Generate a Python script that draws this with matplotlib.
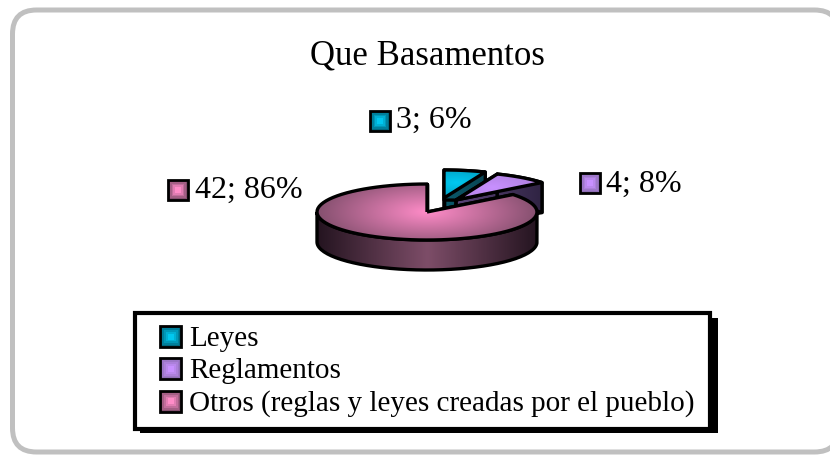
import numpy as np
import matplotlib
matplotlib.use('Agg')
import matplotlib.pyplot as plt
from matplotlib.colors import LinearSegmentedColormap, to_rgb
from matplotlib.patches import FancyBboxPatch, Patch, PathPatch, Rectangle
from matplotlib.path import Path
from matplotlib.legend_handler import HandlerBase

plt.rcParams['font.family'] = ['Liberation Serif', 'DejaVu Serif']

title = 'Que Basamentos'
categories = ['Leyes', 'Reglamentos', 'Otros (reglas y leyes creadas por el pueblo)']
values = [3, 4, 42]
percents = [6, 8, 86]

# pie colours: top surface centre, top surface edge, side light, side dark
bright = ['#00c8f0', '#c890ff', '#ff8cc8']
top_edge = ['#006880', '#8f6fb5', '#85506f']
side_light = ['#0b5a6b', '#5a4478', '#7d4d68']
side_dark = ['#06222a', '#231a33', '#241420']

W, H = 830, 455
fig = plt.figure(figsize=(W / 100, H / 100), dpi=100)
bg = fig.add_axes([0, 0, 1, 1])
bg.set_xlim(0, W)
bg.set_ylim(H, 0)
bg.axis('off')

bg.add_patch(FancyBboxPatch((12.5, 10), 826, 442, boxstyle='round,pad=0,rounding_size=24',
                            fc='white', ec='#c0c0c0', lw=3.6))
bg.text(427, 56, title, fontsize=25, ha='center', va='center')

# pie axes: one data unit is the radius, squashed to an ellipse
RX, RY, DEPTH = 110, 28, 30
CX, CY = 427, 212
ax = fig.add_axes([0, 0, 1, 1], facecolor='none')
wedges = ax.pie(values, startangle=90, counterclock=False, radius=1,
                wedgeprops=dict(fc='none', ec='none'))[0]
ax.set_aspect('auto')
ax.axis('off')
limits = ((-CX / RX, (W - CX) / RX), (-(H - CY) / RY, CY / RY))

offsets = [((444 - CX) / RX, (CY - 198) / RY),
           ((456 - CX) / RX, (CY - 200) / RY),
           (0, 0)]
d = DEPTH / RY


def grad(clip, cmap, kind, c=(0, 0), z=2):
    ext = (-1.4, 1.4, -2.5, 1.8)
    xx, yy = np.meshgrid(np.linspace(ext[0], ext[1], 280), np.linspace(ext[2], ext[3], 280))
    if kind == 'radial':
        g = np.clip(np.hypot(xx - c[0], (yy - c[1]) * 0.75), 0, 1)
    else:
        g = np.clip(np.abs(xx - c[0]), 0, 1)
    im = ax.imshow(g, extent=ext, origin='lower', cmap=cmap, vmin=0, vmax=1,
                   aspect='auto', zorder=z, interpolation='bilinear')
    im.set_clip_path(clip)


def arc(a1, a2, off, drop=0.0):
    t = np.radians(np.linspace(a1, a2, 80))
    return np.column_stack([off[0] + np.cos(t), off[1] - drop + np.sin(t)])


def poly(pts, z, lw=2.4):
    p = PathPatch(Path(np.vstack([pts, pts[:1]])), fc='none', ec='black', lw=lw, zorder=z, joinstyle='round')
    ax.add_patch(p)
    return p


for i, w in enumerate(wedges):
    w.set_visible(False)
    t1, t2 = w.theta1 % 360, w.theta2 % 360
    if t2 <= t1:
        t2 += 360
    off = offsets[i]
    apex = np.array(off)
    base = 10 + i * 10
    cm_top = LinearSegmentedColormap.from_list('t', [bright[i], top_edge[i]])
    cm_side = LinearSegmentedColormap.from_list('s', [side_light[i], side_dark[i]])

    # cut faces along the straight edges
    for a in (t1, t2):
        e = off + np.array([np.cos(np.radians(a)), np.sin(np.radians(a))])
        p = poly(np.array([apex, e, e - [0, d], apex - [0, d]]), base)
        grad(p, cm_side, 'linear', c=off, z=base - 1)

    # outer rim; the big slice only shows its front half
    rim = (max(t1, 180), t2 if t2 <= 360 else 360) if i == 2 else (t1, t2)
    up = arc(rim[0], rim[1], off)
    dn = arc(rim[0], rim[1], off, d)
    p = poly(np.vstack([up, dn[::-1]]), base + 2)
    grad(p, cm_side, 'linear', c=off, z=base + 1)

    # top surface, the small slices are brightest around their middle
    mid = np.radians((t1 + t2) / 2)
    c = off if i == 2 else off + 0.55 * np.array([np.cos(mid), np.sin(mid)])
    p = poly(np.vstack([apex, arc(t1, t2, off)]), base + 4)
    grad(p, cm_top, 'radial', c=c, z=base + 3)

ax.set_xlim(*limits[0])
ax.set_ylim(*limits[1])

bg.set_zorder(0)
ax.set_zorder(1)

label_pos = [(396, 120), (606, 184), (195, 190)]
swatch_pos = [(370, 111), (580, 173), (168, 180)]


def nested(x, y, s, col, edge):
    # square swatch, bright in the middle and dark at the rim
    arts = [Rectangle((x, y), s, s, fc=edge, ec='black', lw=2.0, zorder=30)]
    a, b = np.array(to_rgb(edge)), np.array(to_rgb(col))
    for k in range(1, 5):
        m = s * .09 * k
        arts.append(Rectangle((x + m, y + m), s - 2 * m, s - 2 * m, fc=a + (b - a) * k / 4,
                              ec='none', zorder=31 + k))
    return arts


for i, (v, pct) in enumerate(zip(values, percents)):
    for r in nested(swatch_pos[i][0], swatch_pos[i][1], 20, bright[i], top_edge[i]):
        bg.add_patch(r)
    bg.text(label_pos[i][0], label_pos[i][1], f'{v}; {pct}%', fontsize=23, va='center', ha='left')


class GradHandler(HandlerBase):
    def create_artists(self, legend, orig, x, y, w, h, fontsize, trans):
        arts = nested(x + 9.5, y - 1, 15, orig.get_facecolor(), orig.get_edgecolor())
        for r in arts:
            r.set_transform(trans)
        return arts


handles = [Patch(fc=bright[i], ec=top_edge[i]) for i in range(3)]
bg.add_patch(Rectangle((140, 318), 578, 115, fc='black', ec='none', zorder=3))
leg = bg.legend(handles, categories, handler_map={Patch: GradHandler()},
                loc='upper left', bbox_to_anchor=(135 / W, 1 - 426 / H, 575 / W, 113 / H),
                borderaxespad=0, mode='expand', fontsize=21, fancybox=False, framealpha=1,
                edgecolor='black', labelspacing=0.2, handlelength=1.24, handletextpad=0.2,
                borderpad=0.42)
leg.get_frame().set_linewidth(3)
leg.set_zorder(5)

fig.savefig('out.png', dpi=100)
